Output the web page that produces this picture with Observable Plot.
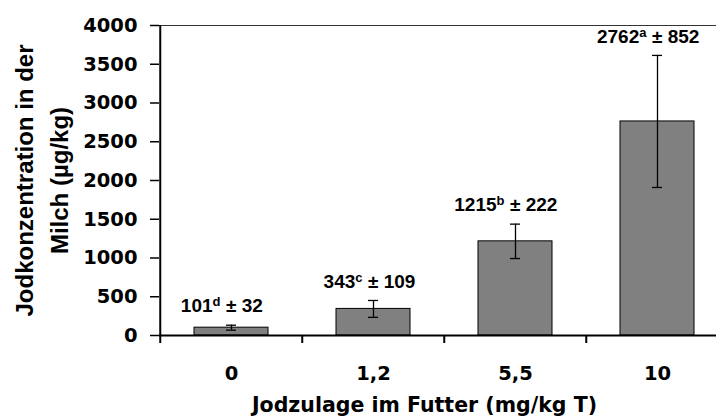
<!DOCTYPE html>
<html>
<head>
<meta charset="utf-8">
<script src="https://cdn.jsdelivr.net/npm/d3@7"></script>
<script src="https://cdn.jsdelivr.net/npm/@observablehq/plot@0.6"></script>
<style>
  html, body { margin: 0; padding: 0; background: #fff; }
  svg { display: block; }
</style>
</head>
<body>
<div id="chart"></div>
<script>
const doses = ["0", "1,2", "5,5", "10"];
const means = [101, 343, 1215, 2762];
const sds = [32, 109, 222, 852];
const letters = ["d", "c", "b", "a"];
const yTicks = [0, 500, 1000, 1500, 2000, 2500, 3000, 3500, 4000];
const xTitle = "Jodzulage im Futter (mg/kg T)";
const yTitle = "Jodkonzentration in der\nMilch (µg/kg)";

const data = doses.map((dose, i) => ({dose, mean: means[i], sd: sds[i], letter: letters[i]}));

const W = 716, H = 416;
const mL = 159, mR = -13, mT = 25, mB = 81;
const halfStep = (W - mR - mL) / doses.length / 2;
const tickFont = "DejaVu Sans, sans-serif";
const labelFont = "Liberation Sans, Arial, sans-serif";

const chart = Plot.plot({
  width: W, height: H,
  marginLeft: mL, marginRight: mR, marginTop: mT, marginBottom: mB,
  x: {domain: doses, paddingInner: 0.477, paddingOuter: 0.2385, axis: null},
  y: {domain: [0, 4000], axis: null},
  marks: [
    Plot.ruleY([4000], {stroke: "#333", strokeWidth: 1}),
    Plot.barY(data, {x: "dose", y: "mean", fill: "#808080", stroke: "#000", strokeWidth: 1}),
    Plot.ruleX(data, {x: "dose", y1: d => d.mean - d.sd, y2: d => d.mean + d.sd, stroke: "#000", strokeWidth: 1.3}),
    Plot.tickY(data, {x: "dose", y: d => d.mean + d.sd, insetLeft: 32, insetRight: 32, stroke: "#000", strokeWidth: 1.3}),
    Plot.tickY(data, {x: "dose", y: d => d.mean - d.sd, insetLeft: 32, insetRight: 32, stroke: "#000", strokeWidth: 1.3}),
    Plot.ruleY([0], {stroke: "#000", strokeWidth: 2}),
    Plot.ruleX([doses[0]], {dx: -halfStep, stroke: "#000", strokeWidth: 2}),
    Plot.axisY({ticks: yTicks, tickSize: 9, tickPadding: 13, tickFormat: d => String(d),
      fontSize: 19.5, fontWeight: "bold", fontFamily: tickFont, fill: "#000", stroke: "#000", strokeWidth: 1.5, label: null}),
    Plot.axisX({tickSize: 8, dx: -halfStep, tickFormat: () => "", stroke: "#000", strokeWidth: 2, label: null}),
    Plot.axisX({tickSize: 0, tickPadding: 31, fontSize: 19.5, fontWeight: "bold", fontFamily: tickFont, fill: "#000", label: null}),
    Plot.text([xTitle], {text: d => d, frameAnchor: "bottom", dx: -20, dy: 70, lineAnchor: "middle",
      fontSize: 20.5, fontWeight: "bold", fontFamily: tickFont, fill: "#000"}),
    Plot.text([yTitle], {text: d => d, frameAnchor: "left", textAnchor: "middle", dx: -120, rotate: -90, lineAnchor: "middle", lineHeight: 1.46,
      fontSize: 24, fontWeight: "bold", fontFamily: labelFont, fill: "#000"}),
    Plot.text(data, {x: "dose", y: d => d.mean + d.sd, text: d => "± " + d.sd, textAnchor: "start", dx: -5.5, dy: -19,
      lineAnchor: "middle", fontSize: 19, fontWeight: "bold", fontFamily: labelFont, fill: "#000"}),
    Plot.text(data, {x: "dose", y: d => d.mean + d.sd, text: d => d.mean + "|" + d.letter, textAnchor: "end", dx: -11, dy: -19,
      lineAnchor: "middle", fontSize: 19, fontWeight: "bold", fontFamily: labelFont, fill: "#000"})
  ]
});

const svgns = "http://www.w3.org/2000/svg";
chart.querySelectorAll("text").forEach(t => {
  if (!t.textContent.includes("|") || t.querySelector("tspan")) return;
  const [m, l] = t.textContent.split("|");
  t.textContent = m;
  const ts = document.createElementNS(svgns, "tspan");
  ts.setAttribute("dy", "-0.45em");
  ts.setAttribute("font-size", "13");
  ts.textContent = l;
  t.appendChild(ts);
});

document.getElementById("chart").appendChild(chart);
</script>
</body>
</html>
